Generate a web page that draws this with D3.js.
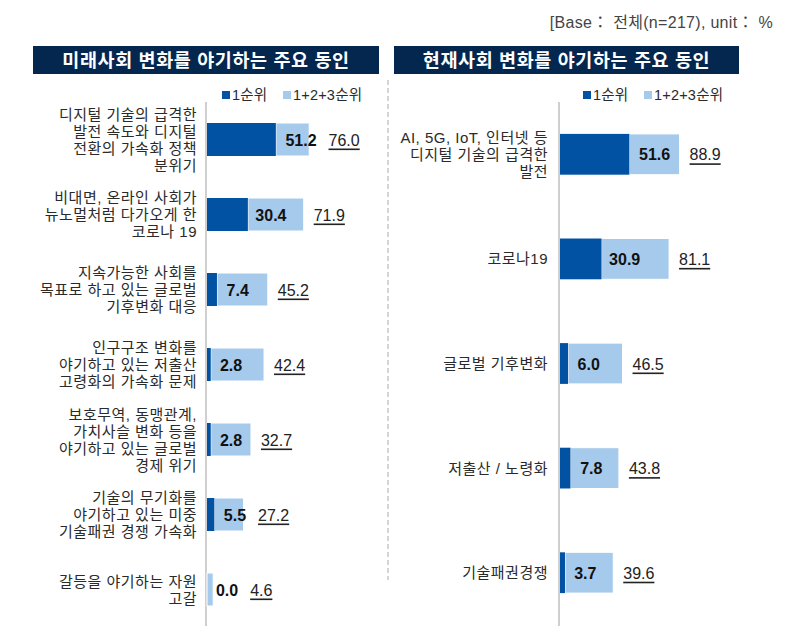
<!DOCTYPE html>
<html>
<head>
<meta charset="utf-8">
<script src="https://cdn.jsdelivr.net/npm/d3@7/dist/d3.min.js"></script>
<style>
  html, body { margin: 0; padding: 0; background: #fff; }
  svg { display: block; }
  text { font-family: "Liberation Sans", "Noto Sans CJK KR", sans-serif; }
</style>
</head>
<body>
<svg id="chart" width="788" height="643"></svg>
<script>
// ---------------- DATA ----------------
const baseNote = "[Base： 전체(n=217),  unit： %";
const seriesNames = ["1순위", "1+2+3순위"];

const futureTitle = "미래사회 변화를 야기하는 주요 동인";
const futureCategories = [
  ["디지털 기술의 급격한", "발전 속도와 디지털", "전환의 가속화 정책", "분위기"],
  ["비대면, 온라인 사회가", "뉴노멀처럼 다가오게 한", "코로나 19"],
  ["지속가능한 사회를", "목표로 하고 있는 글로벌", "기후변화 대응"],
  ["인구구조 변화를", "야기하고 있는 저출산", "고령화의 가속화 문제"],
  ["보호무역, 동맹관계,", "가치사슬 변화 등을", "야기하고 있는 글로벌", "경제 위기"],
  ["기술의 무기화를", "야기하고 있는 미중", "기술패권 경쟁 가속화"],
  ["갈등을 야기하는 자원", "고갈"]
];
const futureFirst = [51.2, 30.4, 7.4, 2.8, 2.8, 5.5, 0.0];
const futureTotal = [76.0, 71.9, 45.2, 42.4, 32.7, 27.2, 4.6];

const presentTitle = "현재사회 변화를 야기하는 주요 동인";
const presentCategories = [
  ["AI, 5G, IoT, 인터넷 등", "디지털 기술의 급격한", "발전"],
  ["코로나19"],
  ["글로벌 기후변화"],
  ["저출산 / 노령화"],
  ["기술패권경쟁"]
];
const presentFirst = [51.6, 30.9, 6.0, 7.8, 3.7];
const presentTotal = [88.9, 81.1, 46.5, 43.8, 39.6];

// ---------------- STYLE ----------------
const C = {
  dark: "#0252A3",
  light: "#A6CAEC",
  header: "#03274F",
  axis: "#CFCFCF",
  text: "#2a2a2a"
};

const svg = d3.select("#chart");

// base note
svg.append("text")
  .attr("x", 773).attr("y", 22)
  .attr("text-anchor", "end")
  .attr("dominant-baseline", "central")
  .attr("font-size", 16)
  .attr("letter-spacing", 0.3)
  .attr("fill", "#444")
  .text(baseNote);

// dashed separator
svg.append("line")
  .attr("x1", 388).attr("x2", 388)
  .attr("y1", 80).attr("y2", 580)
  .attr("stroke", "#C8C8C8")
  .attr("stroke-width", 1.5)
  .attr("stroke-dasharray", "5,3");

function panel(opt) {
  const g = svg.append("g");
  // header
  g.append("rect")
    .attr("x", opt.hx).attr("y", 46)
    .attr("width", opt.hw).attr("height", 28)
    .attr("fill", C.header);
  g.append("text")
    .attr("x", opt.hx + opt.hw / 2).attr("y", 60.5)
    .attr("text-anchor", "middle")
    .attr("dominant-baseline", "central")
    .attr("font-size", 18.5).attr("font-weight", "bold")
    .attr("letter-spacing", 0.6)
    .attr("fill", "#fff")
    .text(opt.title);

  // legend
  const legendX = [opt.hx + 189, opt.hx + 250];
  [C.dark, C.light].forEach((col, i) => {
    g.append("rect")
      .attr("x", legendX[i]).attr("y", 91)
      .attr("width", 8).attr("height", 8)
      .attr("fill", col);
    g.append("text")
      .attr("x", legendX[i] + 10).attr("y", 94.5)
      .attr("dominant-baseline", "central")
      .attr("font-size", 14.5)
      .attr("letter-spacing", 0.2)
      .attr("fill", C.text)
      .text(seriesNames[i]);
  });

  const n = opt.first.length;
  const y = d3.scaleBand()
    .domain(d3.range(n))
    .range([102, opt.yEnd])
    .paddingInner(opt.pad)
    .paddingOuter(opt.pad / 2);
  const x = d3.scaleLinear().domain([0, 100]).range([opt.ax + 1, opt.ax + 1 + 134.5]);

  // axis line
  g.append("line")
    .attr("x1", opt.ax).attr("x2", opt.ax)
    .attr("y1", 102).attr("y2", 626)
    .attr("stroke", C.axis).attr("stroke-width", 2);

  const rows = g.selectAll("g.row").data(d3.range(n)).join("g").attr("class", "row");

  // light (1+2+3 remainder) bars
  rows.append("rect")
    .attr("x", i => x(opt.first[i]))
    .attr("y", i => y(i))
    .attr("width", i => x(opt.total[i]) - x(opt.first[i]))
    .attr("height", y.bandwidth())
    .attr("fill", C.light)
    .attr("stroke", "#fff").attr("stroke-width", 1);
  // dark (1순위) bars
  rows.append("rect")
    .attr("x", x(0))
    .attr("y", i => y(i))
    .attr("width", i => x(opt.first[i]) - x(0))
    .attr("height", y.bandwidth())
    .attr("fill", C.dark);

  // category labels
  rows.each(function(i) {
    const lines = opt.cats[i];
    const lh = opt.lh;
    const cy = y(i) + y.bandwidth() / 2;
    const t = d3.select(this).append("text")
      .attr("text-anchor", "end")
      .attr("font-size", 15)
      .attr("letter-spacing", 0.5)
      .attr("fill", C.text);
    lines.forEach((l, k) => {
      t.append("tspan")
        .attr("x", opt.lx)
        .attr("y", cy + (k - (lines.length - 1) / 2) * lh)
        .attr("dominant-baseline", "central")
        .text(l);
    });
  });

  // value labels
  rows.each(function(i) {
    const cy = y(i) + y.bandwidth() / 2;
    const cx = x(opt.first[i]) + 20 + opt.first[i] * 0.1;
    const inner = d3.select(this).append("text")
      .attr("x", cx).attr("y", cy + 0.5)
      .attr("text-anchor", "middle")
      .attr("dominant-baseline", "central")
      .attr("font-size", 16).attr("font-weight", "bold")
      .attr("fill", "#111")
      .text(opt.first[i].toFixed(1));
    const w = inner.node().getComputedTextLength();
    const tx = Math.max(x(opt.total[i]) + 10, cx + w / 2 + 12);
    d3.select(this).append("text")
      .attr("x", tx).attr("y", cy + 0.5)
      .attr("dominant-baseline", "central")
      .attr("font-size", 16)
      .attr("fill", "#222")
      .attr("text-decoration", "underline")
      .text(opt.total[i].toFixed(1));
  });
}

panel({
  title: futureTitle, hx: 33, hw: 346,
  cats: futureCategories, first: futureFirst, total: futureTotal,
  ax: 206, yEnd: 627, pad: 0.56, lx: 197, lh: 17
});
panel({
  title: presentTitle, hx: 394, hw: 345,
  cats: presentCategories, first: presentFirst, total: presentTotal,
  ax: 559, yEnd: 625, pad: 0.61, lx: 548, lh: 17
});
</script>
</body>
</html>
